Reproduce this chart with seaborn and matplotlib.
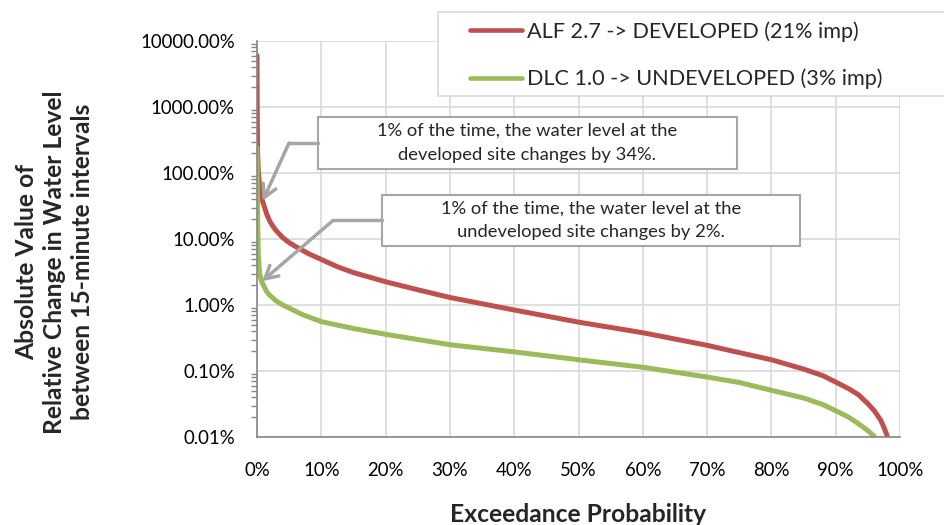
import pandas as pd
import seaborn as sns
import matplotlib.pyplot as plt
from matplotlib.patches import Rectangle
from matplotlib.ticker import FuncFormatter, LogLocator

# Exceedance probability (%) vs absolute relative change (%)
alf_x = [0, 0.02, 0.05, 0.1, 0.2, 0.4, 0.7, 1.0, 1.5, 2, 2.5, 3, 4, 5, 6, 8, 10,
         12.5, 15, 20, 25, 30, 40, 50, 60, 70, 75, 80, 85, 88, 90, 92, 93.5,
         95, 96, 97, 97.5, 98]
alf_y = [6000, 1500, 500, 200, 110, 65, 42, 34, 24, 18.5, 15.5, 13.3, 10.5,
         8.8, 7.7, 6.0, 4.9, 3.8, 3.1, 2.25, 1.7, 1.3, 0.84, 0.55, 0.38, 0.245,
         0.19, 0.148, 0.107, 0.085, 0.068, 0.054, 0.044, 0.032, 0.025, 0.018,
         0.014, 0.0105]

dlc_x = [0, 0.05, 0.1, 0.2, 0.4, 0.7, 1.0, 1.5, 2, 3, 4, 5, 7, 10, 15, 20, 25,
         30, 40, 50, 60, 70, 75, 80, 85, 88, 90, 92, 93.5, 95, 96]
dlc_y = [240, 60, 20, 6, 3, 2.3, 2.0, 1.6, 1.4, 1.15, 1.0, 0.9, 0.72, 0.56,
         0.44, 0.36, 0.3, 0.25, 0.195, 0.148, 0.114, 0.081, 0.067, 0.051,
         0.039, 0.031, 0.025, 0.02, 0.016, 0.0125, 0.0102]

alf_label = 'ALF 2.7 -> DEVELOPED (21% imp)'
dlc_label = 'DLC 1.0 -> UNDEVELOPED (3% imp)'
note_dev = '1% of the time, the water level at the\ndeveloped site changes by 34%.'
note_undev = '1% of the time, the water level at the\nundeveloped site changes by 2%.'

df = pd.concat([
    pd.DataFrame({'exceed': alf_x, 'change': alf_y, 'series': alf_label}),
    pd.DataFrame({'exceed': dlc_x, 'change': dlc_y, 'series': dlc_label}),
])

sns.set_style('white')
plt.rcParams['font.family'] = ['Lato', 'DejaVu Sans']

W, H = 945, 525
fig = plt.figure(figsize=(W / 100, H / 100), dpi=100)
ax = fig.add_axes([257 / W, 1 - 437 / H, (900 - 257) / W, (437 - 41) / H])

sns.lineplot(data=df, x='exceed', y='change', hue='series',
             palette={alf_label: '#C0504D', dlc_label: '#9BBB59'},
             linewidth=3.6, ax=ax, estimator=None)

ax.set_yscale('log')
ax.set_ylim(0.01, 10000)
ax.set_xlim(0, 100)
ax.set_xticks(range(0, 101, 10))
ax.xaxis.set_major_formatter(FuncFormatter(lambda v, p: f'{v:.0f}%'))
ax.yaxis.set_major_locator(LogLocator(base=10, numticks=20))
ax.yaxis.set_minor_locator(LogLocator(base=10, subs=range(2, 10), numticks=20))
ax.yaxis.set_major_formatter(FuncFormatter(lambda v, p: f'{v:.2f}%'))
ax.yaxis.set_minor_formatter(FuncFormatter(lambda v, p: ''))

ax.grid(True, which='major', color='#d9d9d9', linewidth=1.2)
for side in ['top', 'right']:
    ax.spines[side].set_visible(False)
for side in ['left', 'bottom']:
    ax.spines[side].set_color('#868686')
    ax.spines[side].set_linewidth(1.2)
ax.tick_params(axis='both', which='both', color='#868686', labelsize=13.4,
               labelcolor='black', direction='out')
ax.tick_params(axis='both', which='major', length=6, width=1.2, pad=10)
ax.tick_params(axis='x', which='major', pad=12)
ax.tick_params(axis='y', which='minor', length=4, width=1, left=True)

ax.set_xlabel('Exceedance Probability', fontsize=17.7, fontweight='bold', labelpad=17)
ax.set_ylabel('')
fig.text(55 / W, 1 - 262 / H,
         'Absolute Value of\nRelative Change in Water Level\nbetween 15-minute intervals',
         rotation=90, ha='center', va='center', fontsize=17.7,
         fontweight='bold', linespacing=1.26)

# legend across the top right, frame drawn separately
handles, labels = ax.get_legend_handles_labels()
ax.get_legend().remove()
fig.add_artist(Rectangle((438 / W, 1 - 96 / H), (960 - 438) / W, 84 / H,
                         transform=fig.transFigure, facecolor='white',
                         edgecolor='#d9d9d9', linewidth=1.2, zorder=4))
leg = fig.legend(handles, labels, loc='upper left',
                 bbox_to_anchor=(470 / W, 1 - 21 / H),
                 fontsize=15.6, frameon=False, handlelength=2.4,
                 handletextpad=0.23, borderaxespad=0, labelspacing=1.25,
                 borderpad=0)
leg.set_zorder(6)
for line in leg.get_lines():
    line.set_linewidth(3.3)


# callout boxes with elbow arrows
def callout(box, text, elbow_x, tip):
    x0, y0, x1, y1 = box
    fig.add_artist(Rectangle((x0 / W, 1 - y1 / H), (x1 - x0) / W, (y1 - y0) / H,
                             transform=fig.transFigure, facecolor='white',
                             edgecolor='#a6a6a6', linewidth=1.5, zorder=5))
    fig.text((x0 + x1) / 2 / W, 1 - (y0 + y1) / 2 / H, text, ha='center',
             va='center', fontsize=13.2, linespacing=1.6, zorder=6)
    ym = (y0 + y1) / 2
    fig.add_artist(plt.Line2D([elbow_x / W, x0 / W], [1 - ym / H, 1 - ym / H],
                              transform=fig.transFigure, color='#a6a6a6',
                              linewidth=2.5, zorder=5))
    ax.annotate('', xy=tip, xycoords='data',
                xytext=(elbow_x, H - ym), textcoords='figure pixels',
                arrowprops=dict(arrowstyle='->,head_length=0.9,head_width=0.5',
                                color='#a6a6a6', linewidth=2.5,
                                shrinkA=0, shrinkB=0),
                annotation_clip=False, zorder=5)


callout((318, 117, 737, 169), note_dev, 289, (0.9, 38))
callout((382, 195, 800, 246), note_undev, 333, (0.8, 2.3))

fig.savefig('out.png', dpi=100)
